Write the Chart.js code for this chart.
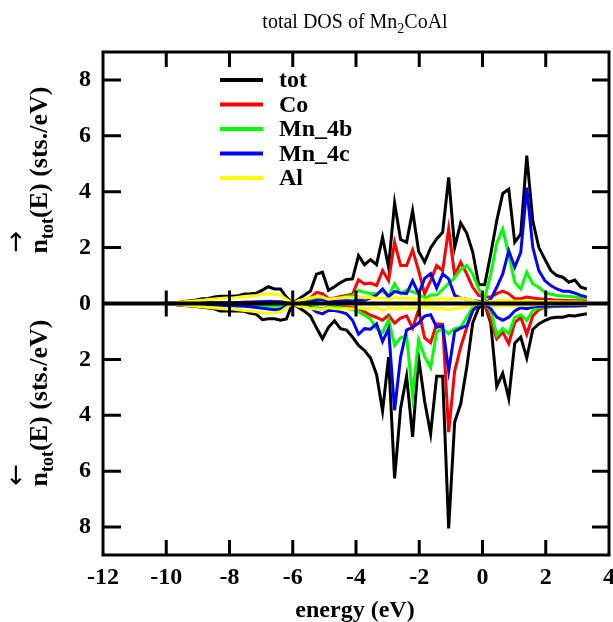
<!DOCTYPE html>
<html>
<head>
<meta charset="utf-8">
<script src="https://cdn.jsdelivr.net/npm/chart.js@4/dist/chart.umd.min.js"></script>
<style>
html, body { margin: 0; padding: 0; background: #fff; }
canvas { display: block; }
</style>
</head>
<body>
<canvas id="dos" width="613" height="622"></canvas>
<script>
// energy grid (eV) and spin resolved DOS (sts./eV), spin down stored negative
var energy = [-10.00,-9.81,-9.62,-9.43,-9.24,-9.05,-8.86,-8.67,-8.48,-8.29,
	-8.10,-7.91,-7.72,-7.53,-7.34,-7.15,-6.96,-6.77,-6.58,-6.39,
	-6.20,-6.01,-5.82,-5.63,-5.44,-5.25,-5.06,-4.87,-4.68,-4.49,
	-4.30,-4.11,-3.92,-3.73,-3.54,-3.35,-3.16,-2.97,-2.78,-2.59,
	-2.40,-2.21,-2.02,-1.83,-1.64,-1.45,-1.26,-1.07,-0.88,-0.69,
	-0.50,-0.31,-0.12,0.07,0.26,0.45,0.64,0.83,1.02,1.21,
	1.40,1.59,1.78,1.97,2.16,2.35,2.54,2.73,2.92,3.11,
	3.30];

var totUp = [0.00,0.02,0.04,0.07,0.10,0.13,0.17,0.18,0.23,0.26,
	0.26,0.26,0.28,0.34,0.35,0.37,0.48,0.60,0.52,0.52,
	0.23,0.00,0.15,0.30,0.45,1.05,1.12,0.47,0.60,0.75,
	0.86,0.88,1.71,1.39,1.57,1.39,2.37,1.30,3.60,2.29,
	2.19,3.32,1.87,1.48,1.99,2.31,2.55,4.51,2.00,2.88,
	2.52,1.85,0.68,0.67,1.77,2.96,3.94,4.09,2.19,2.49,
	5.29,2.96,2.01,1.59,1.18,1.00,0.94,0.76,0.84,0.58,
	0.52];
var totDn = [0,-0.02,-0.05,-0.07,-0.09,-0.11,-0.13,-0.16,-0.19,-0.27,
	-0.27,-0.27,-0.27,-0.28,-0.35,-0.39,-0.58,-0.55,-0.55,-0.60,
	-0.55,0,-0.14,-0.28,-0.45,-0.87,-1.26,-0.85,-0.62,-0.90,
	-0.95,-1.20,-1.50,-1.68,-1.95,-2.54,-3.85,-1.92,-6.26,-3.76,
	-2.60,-4.77,-1.95,-3.50,-4.66,-2.60,-2.60,-8.05,-4.24,-3.60,
	-2.30,-0.70,-0.15,-0.03,-0.70,-2.97,-2.50,-3.40,-1.42,-1.20,
	-1.95,-0.93,-0.73,-0.61,-0.52,-0.49,-0.49,-0.43,-0.45,-0.40,
	-0.37];

var coUp = [0,0.01,0.01,0.02,0.02,0.03,0.03,0.03,0.04,0.04,
	0.04,0.04,0.04,0.05,0.05,0.05,0.06,0.08,0.07,0.06,
	0.03,0,0.05,0.10,0.20,0.40,0.35,0.17,0.20,0.25,
	0.29,0.33,0.85,0.70,0.73,0.64,1.18,0.82,2.19,1.36,
	1.36,1.92,1.18,0.35,0.82,1.36,1.18,2.67,1.00,1.48,
	1.06,0.58,0.29,0.23,0.23,0.35,0.44,0.35,0.17,0.17,
	0.23,0.20,0.17,0.15,0.14,0.12,0.12,0.11,0.10,0.10,
	0.09];
var coDn = [0,-0.01,-0.01,-0.01,-0.02,-0.02,-0.02,-0.02,-0.03,-0.03,
	-0.03,-0.03,-0.03,-0.04,-0.04,-0.04,-0.05,-0.06,-0.05,-0.05,
	-0.03,0,-0.03,-0.06,-0.08,-0.15,-0.20,-0.12,-0.10,-0.12,
	-0.13,-0.15,-0.18,-0.30,-0.42,-0.50,-0.60,-0.42,-0.70,-0.52,
	-0.44,-0.88,-0.22,-1.23,-1.40,-0.73,-0.75,-4.60,-2.42,-1.56,
	-0.87,-0.25,-0.04,-0.01,-0.60,-1.26,-1.02,-1.44,-0.68,-0.49,
	-1.10,-0.45,-0.22,-0.14,-0.12,-0.10,-0.10,-0.09,-0.09,-0.08,
	-0.08];

var mn4bUp = [0,0.01,0.01,0.01,0.02,0.02,0.02,0.03,0.03,0.03,
	0.03,0.03,0.04,0.04,0.04,0.05,0.06,0.07,0.06,0.05,
	0.03,0,0.03,0.06,0.10,0.20,0.25,0.12,0.15,0.20,
	0.25,0.28,0.46,0.40,0.35,0.35,0.46,0.25,0.70,0.35,
	0.48,0.42,0.35,0.18,0.30,0.30,0.50,0.72,0.92,1.22,
	1.36,1.06,0.52,0.18,1.06,2.15,2.67,1.75,0.76,0.52,
	1.12,0.70,0.58,0.40,0.33,0.29,0.27,0.26,0.23,0.21,
	0.20];
var mn4bDn = [0,-0.01,-0.01,-0.02,-0.02,-0.02,-0.03,-0.03,-0.03,-0.04,
	-0.04,-0.04,-0.05,-0.05,-0.06,-0.07,-0.09,-0.10,-0.10,-0.09,
	-0.05,0,-0.03,-0.05,-0.08,-0.15,-0.20,-0.12,-0.10,-0.15,
	-0.18,-0.22,-0.30,-0.42,-0.55,-0.90,-1.05,-0.58,-1.50,-1.23,
	-1.17,-3.30,-1.30,-1.90,-2.30,-1.02,-0.90,-1.08,-0.90,-0.85,
	-0.49,-0.13,-0.03,-0.01,-0.25,-1.14,-0.90,-1.08,-0.49,-0.40,
	-0.61,-0.25,-0.15,-0.12,-0.10,-0.10,-0.09,-0.09,-0.08,-0.08,
	-0.07];

var mn4cUp = [0,0.01,0.01,0.01,0.02,0.02,0.02,0.03,0.03,0.03,
	0.03,0.03,0.04,0.04,0.04,0.05,0.06,0.07,0.06,0.05,
	0.03,0,0.02,0.04,0.06,0.12,0.14,0.06,0.08,0.10,
	0.10,0.10,0.12,0.12,0.20,0.30,0.52,0.25,0.43,0.38,
	0.35,0.81,0.35,0.90,1.07,0.55,1.06,0.88,0.29,0.20,
	0.15,0.10,0.08,0.02,0.15,0.58,1.06,1.89,1.30,1.83,
	4.15,2.01,1.18,0.82,0.64,0.52,0.44,0.44,0.37,0.29,
	0.23];
var mn4cDn = [0,-0.01,-0.01,-0.02,-0.02,-0.03,-0.03,-0.04,-0.05,-0.06,
	-0.07,-0.08,-0.09,-0.10,-0.12,-0.14,-0.17,-0.20,-0.22,-0.20,
	-0.10,0,-0.05,-0.10,-0.15,-0.30,-0.37,-0.25,-0.25,-0.30,
	-0.37,-0.60,-1.10,-0.90,-0.92,-0.73,-1.36,-0.90,-3.82,-1.92,
	-0.95,-0.85,-0.70,-0.45,-0.40,-0.85,-0.80,-2.42,-1.00,-0.88,
	-0.80,-0.25,-0.04,-0.01,-0.19,-0.49,-0.60,-0.49,-0.27,-0.15,
	-0.19,-0.13,-0.10,-0.10,-0.09,-0.09,-0.08,-0.08,-0.08,-0.07,
	-0.07];

var alUp = [0,0.02,0.04,0.06,0.08,0.10,0.12,0.14,0.16,0.18,
	0.20,0.20,0.22,0.25,0.27,0.29,0.32,0.35,0.32,0.30,
	0.15,0,0.10,0.15,0.20,0.25,0.22,0.15,0.18,0.20,
	0.22,0.20,0.25,0.20,0.22,0.18,0.20,0.15,0.22,0.18,
	0.20,0.15,0.18,0.12,0.15,0.15,0.18,0.15,0.18,0.20,
	0.15,0.10,0.05,0.03,0.08,0.10,0.12,0.10,0.08,0.08,
	0.10,0.08,0.07,0.07,0.06,0.06,0.05,0.05,0.05,0.05,
	0.04];
var alDn = [0,-0.02,-0.04,-0.06,-0.08,-0.10,-0.12,-0.14,-0.16,-0.18,
	-0.20,-0.20,-0.22,-0.25,-0.27,-0.30,-0.33,-0.35,-0.33,-0.30,
	-0.15,0,-0.10,-0.12,-0.18,-0.20,-0.22,-0.15,-0.18,-0.20,
	-0.18,-0.20,-0.15,-0.20,-0.18,-0.15,-0.25,-0.15,-0.20,-0.15,
	-0.18,-0.15,-0.20,-0.12,-0.15,-0.20,-0.18,-0.22,-0.18,-0.15,
	-0.10,-0.05,-0.02,-0.01,-0.05,-0.08,-0.08,-0.08,-0.06,-0.05,
	-0.06,-0.05,-0.04,-0.04,-0.04,-0.03,-0.03,-0.03,-0.03,-0.03,
	-0.03];

var seriesNames = ["tot", "Co", "Mn_4b", "Mn_4c", "Al"];
var seriesColors = ["#000000", "#ff0000", "#00ff00", "#0000ff", "#ffff00"];
var upSeries = [totUp, coUp, mn4bUp, mn4cUp, alUp];
var dnSeries = [totDn, coDn, mn4bDn, mn4cDn, alDn];
var xTicks = [-12, -10, -8, -6, -4, -2, 0, 2, 4];
var yTicks = [-8, -6, -4, -2, 0, 2, 4, 6, 8];

var SERIF = "'Liberation Serif', 'Times New Roman', serif";

function points(arr) {
	return energy.map(function(e, i) { return {x: e, y: arr[i]}; });
}

var datasets = [];
for (var s = 0; s < seriesNames.length; s++) {
	[upSeries[s], dnSeries[s]].forEach(function(arr) {
		datasets.push({
			label: seriesNames[s],
			data: points(arr),
			borderColor: seriesColors[s],
			borderWidth: 3,
			pointRadius: 0,
			tension: 0,
			fill: false,
			order: seriesNames.length - s
		});
	});
}

// rotated y title: n with arrow superscript and "tot" subscript
function drawYTitle(ctx, cx, cy, arrow) {
	var big = "bold 26px " + SERIF, small = "bold 18px " + SERIF, arr = "26px 'DejaVu Sans', sans-serif";
	ctx.save();
	ctx.font = big;
	var wn = ctx.measureText("n").width;
	var wRest = ctx.measureText("(E) (sts./eV)").width;
	ctx.font = small;
	var wSub = ctx.measureText("tot").width;
	var total = wn + wSub + wRest;
	ctx.translate(cx, cy);
	ctx.rotate(-Math.PI / 2);
	ctx.textBaseline = "alphabetic";
	ctx.textAlign = "left";
	ctx.fillStyle = "#000";
	var x = -total / 2;
	ctx.font = big;
	ctx.fillText("n", x, 0);
	ctx.font = arr;
	ctx.fillText(arrow, x + 1, -23);
	x += wn;
	ctx.font = small;
	ctx.fillText("tot", x, 6);
	x += wSub;
	ctx.font = big;
	ctx.fillText("(E) (sts./eV)", x, 0);
	ctx.restore();
}

var framePlugin = {
	id: "frame",
	afterDatasetsDraw: function(chart) {
		var ctx = chart.ctx, a = chart.chartArea;
		var xs = chart.scales.x, ys = chart.scales.y;
		var y0 = ys.getPixelForValue(0);
		ctx.save();
		ctx.strokeStyle = "#000";
		ctx.lineCap = "butt";

		// zero line
		ctx.lineWidth = 4;
		ctx.beginPath();
		ctx.moveTo(a.left, y0);
		ctx.lineTo(a.right, y0);
		ctx.stroke();

		// frame
		ctx.lineWidth = 3;
		ctx.strokeRect(a.left, a.top, a.right - a.left, a.bottom - a.top);

		// inward ticks
		ctx.beginPath();
		xTicks.forEach(function(v) {
			if (v === xs.min || v === xs.max) return;
			var px = xs.getPixelForValue(v);
			ctx.moveTo(px, a.bottom); ctx.lineTo(px, a.bottom - 15);
			ctx.moveTo(px, a.top); ctx.lineTo(px, a.top + 15);
			ctx.moveTo(px, y0 - 13); ctx.lineTo(px, y0 + 13);
		});
		yTicks.forEach(function(v) {
			if (v === 0) return;
			var py = ys.getPixelForValue(v);
			ctx.moveTo(a.left, py); ctx.lineTo(a.left + 18, py);
			ctx.moveTo(a.right, py); ctx.lineTo(a.right - 17, py);
		});
		ctx.stroke();

		// legend
		ctx.font = "bold 24px " + SERIF;
		ctx.textBaseline = "middle";
		ctx.textAlign = "left";
		ctx.fillStyle = "#000";
		for (var i = 0; i < seriesNames.length; i++) {
			var ly = 80 + i * 24.5;
			ctx.strokeStyle = seriesColors[i];
			ctx.lineWidth = 4;
			ctx.beginPath();
			ctx.moveTo(220, ly);
			ctx.lineTo(263, ly);
			ctx.stroke();
			ctx.fillText(seriesNames[i], 279, ly + 1);
		}
		ctx.restore();
	},
	afterDraw: function(chart) {
		var ctx = chart.ctx;
		ctx.save();
		ctx.fillStyle = "#000";
		ctx.textBaseline = "alphabetic";

		// title with subscript
		var t1 = "total DOS of Mn", t2 = "2", t3 = "CoAl";
		ctx.font = "20px " + SERIF;
		var w1 = ctx.measureText(t1).width, w3 = ctx.measureText(t3).width;
		ctx.font = "14px " + SERIF;
		var w2 = ctx.measureText(t2).width;
		var x = 355 - (w1 + w2 + w3) / 2;
		ctx.textAlign = "left";
		ctx.font = "20px " + SERIF;
		ctx.fillText(t1, x, 28);
		ctx.font = "14px " + SERIF;
		ctx.fillText(t2, x + w1, 33);
		ctx.font = "20px " + SERIF;
		ctx.fillText(t3, x + w1 + w2, 28);

		// x title
		ctx.font = "bold 24px " + SERIF;
		ctx.textAlign = "center";
		ctx.fillText("energy (eV)", 355, 617);

		// y titles
		drawYTitle(ctx, 47, 170, "\u2192");
		drawYTitle(ctx, 47, 403, "\u2190");
		ctx.restore();
	}
};

var tickFont = {family: SERIF, size: 24, weight: "bold"};

new Chart(document.getElementById("dos").getContext("2d"), {
	type: "line",
	data: {datasets: datasets},
	plugins: [framePlugin],
	options: {
		responsive: false,
		animation: false,
		layout: {padding: {top: 52, right: 4, left: 0, bottom: 0}},
		plugins: {
			legend: {display: false},
			tooltip: {enabled: false},
			title: {display: false}
		},
		scales: {
			x: {
				type: "linear",
				min: -12,
				max: 4,
				afterBuildTicks: function(scale) {
					scale.ticks = xTicks.map(function(v) { return {value: v}; });
				},
				ticks: {color: "#000", font: tickFont, padding: 8, maxRotation: 0, autoSkip: false},
				grid: {display: false, drawTicks: false},
				border: {display: false},
				afterFit: function(scale) {
					scale.height = 67;
					scale.paddingLeft = 0;
					scale.paddingRight = 0;
				}
			},
			y: {
				type: "linear",
				min: -9,
				max: 9,
				afterBuildTicks: function(scale) {
					scale.ticks = yTicks.map(function(v) { return {value: v}; });
				},
				ticks: {
					color: "#000",
					font: tickFont,
					padding: 12,
					callback: function(v) { return Math.abs(v); }
				},
				grid: {display: false, drawTicks: false},
				border: {display: false},
				afterFit: function(scale) {
					scale.width = 103;
				}
			}
		}
	}
});
</script>
</body>
</html>
